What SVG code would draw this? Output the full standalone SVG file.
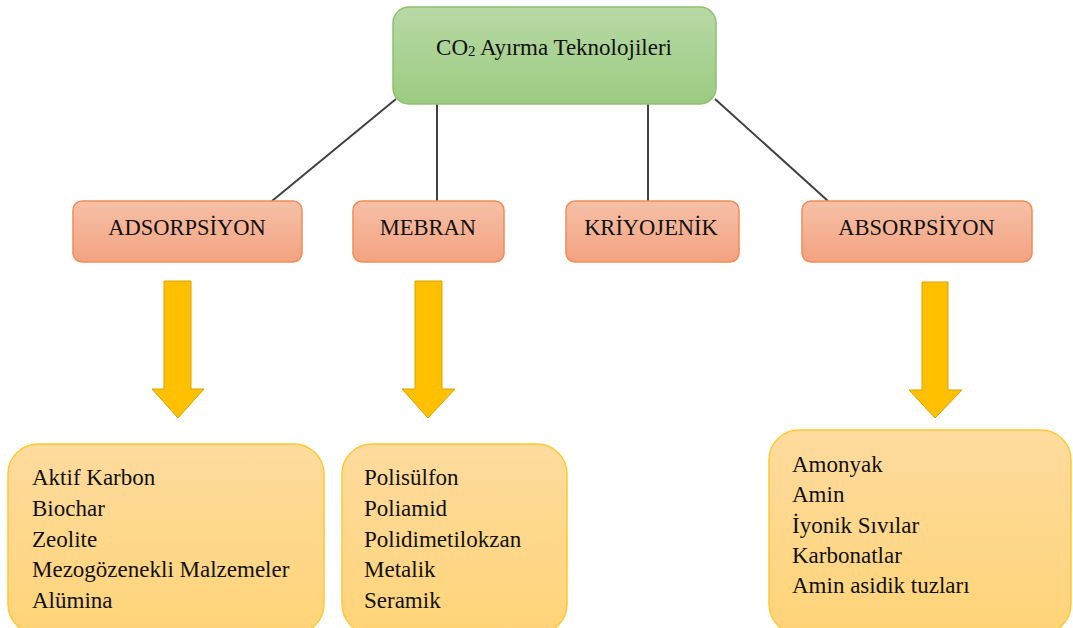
<svg xmlns="http://www.w3.org/2000/svg" width="1073" height="628" viewBox="0 0 1073 628">
<defs>
<linearGradient id="gGreen" x1="0" y1="0" x2="0" y2="1"><stop offset="0" stop-color="#b8d9a6"/><stop offset="1" stop-color="#9bcb80"/></linearGradient>
<linearGradient id="gOrange" x1="0" y1="0" x2="0" y2="1"><stop offset="0" stop-color="#f6c0a6"/><stop offset="1" stop-color="#f3a281"/></linearGradient>
<linearGradient id="gYellow" x1="0" y1="0" x2="0" y2="1"><stop offset="0" stop-color="#fedb9e"/><stop offset="1" stop-color="#ffd478"/></linearGradient>
<style>
.t{font-family:"Liberation Serif","Times New Roman",serif;fill:#111;}
.head{font-size:23px;}
.cat{font-size:22.5px;text-anchor:middle;}
.list{font-size:23px;}
.green{fill:url(#gGreen);stroke:#8dc06f;stroke-width:1.5;}
.orange{fill:url(#gOrange);stroke:#ee8d55;stroke-width:1.5;}
.yellow{fill:url(#gYellow);stroke:#ffc832;stroke-width:1.5;}
.conn{stroke:#404040;stroke-width:2;fill:none;}
.arrow{fill:#ffc000;stroke:#d9a300;stroke-width:1;}
</style>
</defs>
<rect width="1073" height="628" fill="#ffffff"/>
<g id="connectors">
<line class="conn" x1="396" y1="99" x2="272" y2="201"/>
<line class="conn" x1="437" y1="104" x2="437" y2="201"/>
<line class="conn" x1="648" y1="104" x2="648" y2="201"/>
<line class="conn" x1="715" y1="99" x2="828" y2="201"/>
</g>
<g id="root">
<rect class="green" x="393" y="7" width="323" height="97" rx="16"/>
<text class="t head" x="554" y="55" text-anchor="middle">CO<tspan font-size="15" dy="1">2</tspan><tspan dy="-1"> Ayırma Teknolojileri</tspan></text>
</g>
<g id="adsorpsiyon">
<rect class="orange" x="73" y="201" width="229" height="61" rx="9"/>
<text class="t cat" x="187" y="235">ADSORPSİYON</text>
</g>
<g id="mebran">
<rect class="orange" x="353" y="201" width="151" height="61" rx="9"/>
<text class="t cat" x="428" y="235">MEBRAN</text>
</g>
<g id="kriyojenik">
<rect class="orange" x="566" y="201" width="173" height="61" rx="9"/>
<text class="t cat" x="651" y="235">KRİYOJENİK</text>
</g>
<g id="absorpsiyon">
<rect class="orange" x="802" y="201" width="230" height="61" rx="9"/>
<text class="t cat" x="916.5" y="235">ABSORPSİYON</text>
</g>
<g id="arrow-adsorpsiyon">
<polygon class="arrow" points="164,281 191,281 191,389 204,389 178,418 152,389 164,389"/>
</g>
<g id="arrow-mebran">
<polygon class="arrow" points="415,281 442,281 442,389 455,389 428,418 402,389 415,389"/>
</g>
<g id="arrow-absorpsiyon">
<polygon class="arrow" points="922,282 948,282 948,390 962,390 935,418 909,390 922,390"/>
</g>
<g id="list-adsorpsiyon">
<rect class="yellow" x="8" y="444" width="316" height="190" rx="30"/>
<text class="t list" x="32" y="485">Aktif Karbon</text>
<text class="t list" x="32" y="516">Biochar</text>
<text class="t list" x="32" y="547">Zeolite</text>
<text class="t list" x="32" y="577">Mezogözenekli Malzemeler</text>
<text class="t list" x="32" y="608">Alümina</text>
</g>
<g id="list-mebran">
<rect class="yellow" x="342" y="444" width="225" height="190" rx="30"/>
<text class="t list" x="364" y="485">Polisülfon</text>
<text class="t list" x="364" y="516">Poliamid</text>
<text class="t list" x="364" y="547">Polidimetilokzan</text>
<text class="t list" x="364" y="577">Metalik</text>
<text class="t list" x="364" y="608">Seramik</text>
</g>
<g id="list-absorpsiyon">
<rect class="yellow" x="769" y="430" width="302" height="204" rx="30"/>
<text class="t list" x="792" y="472">Amonyak</text>
<text class="t list" x="792" y="502">Amin</text>
<text class="t list" x="792" y="533">İyonik Sıvılar</text>
<text class="t list" x="792" y="563">Karbonatlar</text>
<text class="t list" x="792" y="593">Amin asidik tuzları</text>
</g>
</svg>
